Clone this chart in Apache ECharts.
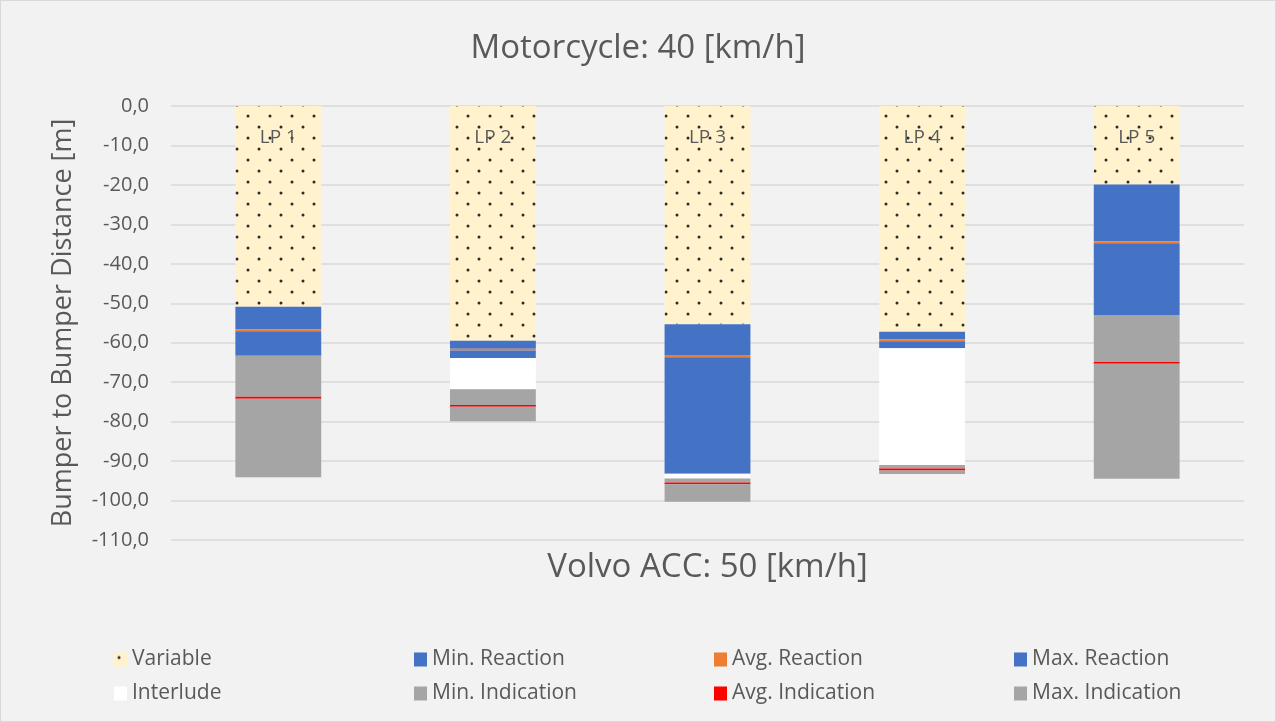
<!DOCTYPE html>
<html>
<head>
<meta charset="utf-8">
<script src="https://cdn.jsdelivr.net/npm/echarts@6/dist/echarts.min.js"></script>
<style>
  html, body { margin: 0; padding: 0; background: #fff; }
  #chart { width: 1274px; height: 720px; border: 1px solid #D9D9D9; background: #F2F2F2; }
</style>
</head>
<body>
<div id="chart"></div>
<script>
// categories
var lpNames = ['LP 1', 'LP 2', 'LP 3', 'LP 4', 'LP 5'];
// segment lengths in metres (negative = behind), top to bottom of each bar
var variable     = [-50.9, -59.5, -55.3, -57.2, -19.9];
var minReaction  = [-5.7, -2.0, -7.8, -1.9, -14.4];
var avgReaction  = [-0.5, -0.5, -0.6, -0.5, -0.5];
var maxReaction  = [-6.2, -1.9, -29.5, -1.8, -18.2];
var interlude    = [0, -7.9, -1.2, -29.6, 0];
var minIndication = [-10.4, -4.0, -1.0, -0.9, -11.9];
var avgIndication = [-0.5, -0.4, -0.5, -0.5, -0.4];
var maxIndication = [-19.9, -3.7, -4.4, -0.9, -29.2];

// dotted fill like the excel pattern
function dotPattern () {
    var c = document.createElement('canvas')
    c.width = 22
    c.height = 22
    var ctx = c.getContext('2d')
    ctx.fillStyle = '#FFF2CC'
    ctx.fillRect(0, 0, 22, 22)
    ctx.fillStyle = '#2b2b2b'
    ctx.beginPath()
    ctx.arc(5, 5, 1.5, 0, Math.PI * 2)
    ctx.arc(16, 16, 1.5, 0, Math.PI * 2)
    ctx.fill()
    return c
}

var chart = echarts.init(document.getElementById('chart'))
var fontFam = 'Open Sans'
var txtColor = '#595959'

function bar (name, data, color, extra) {
    var s = {
        name: name,
        type: 'bar',
        stack: 'total',
        data: data,
        barWidth: '40%',
        itemStyle: { color: color },
        emphasis: { disabled: true }
    }
    if (extra) Object.assign(s, extra)
    return s
}

function legendCol (left, items) {
    return {
        orient: 'vertical',
        left: left,
        top: 643,
        itemGap: 13,
        itemWidth: 13,
        itemHeight: 14,
        icon: 'rect',
        data: items,
        textStyle: { color: txtColor, fontSize: 21, fontFamily: fontFam, padding: [0, 0, 0, 0] },
        selectedMode: false
    }
}

var option = {
    animation: false,
    textStyle: { fontFamily: fontFam },
    title: {
        text: 'Motorcycle: 40 [km/h]',
        left: 'center',
        top: 26,
        textStyle: { color: txtColor, fontSize: 33, fontWeight: 'normal', fontFamily: fontFam }
    },
    legend: [
        legendCol(108, ['Variable', 'Interlude']),
        legendCol(408, ['Min. Reaction', 'Min. Indication']),
        legendCol(708, ['Avg. Reaction', 'Avg. Indication']),
        legendCol(1008, ['Max. Reaction', 'Max. Indication'])
    ],
    grid: { left: 170, right: 31, top: 105, bottom: 181 },
    xAxis: {
        type: 'category',
        data: lpNames,
        position: 'bottom',
        axisLine: { show: false, onZero: false },
        axisTick: { show: false },
        axisLabel: { show: false },
        name: 'Volvo ACC: 50 [km/h]',
        nameLocation: 'middle',
        nameGap: 11,
        nameTextStyle: { color: txtColor, fontSize: 33, fontFamily: fontFam, verticalAlign: 'top' }
    },
    yAxis: {
        type: 'value',
        min: -110,
        max: 0,
        interval: 10,
        axisLine: { show: false },
        axisTick: { show: false },
        splitLine: { lineStyle: { color: '#D9D9D9', width: 1.5 } },
        axisLabel: {
            color: txtColor,
            fontSize: 20,
            margin: 22,
            formatter: function (v) { return v.toFixed(1).replace('.', ',') }
        },
        name: 'Bumper to Bumper Distance [m]',
        nameLocation: 'middle',
        nameGap: 94,
        nameTextStyle: { color: txtColor, fontSize: 27, fontFamily: fontFam }
    },
    series: [
        bar('Variable', variable, { image: dotPattern(), repeat: 'repeat' }, {
            label: {
                show: true,
                position: 'insideTop',
                distance: 22,
                color: '#595959',
                fontSize: 19,
                formatter: function (p) { return lpNames[p.dataIndex] }
            }
        }),
        bar('Min. Reaction', minReaction, '#4472C4'),
        bar('Avg. Reaction', avgReaction, '#ED7D31'),
        bar('Max. Reaction', maxReaction, '#4472C4'),
        bar('Interlude', interlude, '#FFFFFF'),
        bar('Min. Indication', minIndication, '#A5A5A5'),
        bar('Avg. Indication', avgIndication, '#FF0000'),
        bar('Max. Indication', maxIndication, '#A5A5A5')
    ]
}
chart.setOption(option)
</script>
</body>
</html>
